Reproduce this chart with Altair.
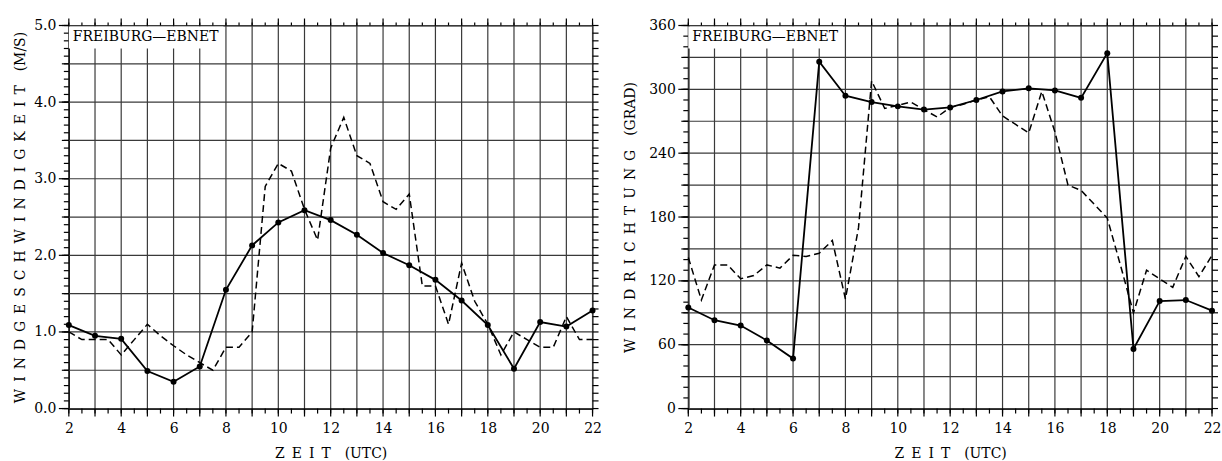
import altair as alt
import pandas as pd

# Time axis: hourly means (solid, dotted) and half-hourly values (dashed)
hours = list(range(2, 23))
half_hours = [2 + 0.5 * i for i in range(41)]

# Wind speed (m/s)
speed_hourly = [1.09, 0.95, 0.91, 0.49, 0.35, 0.55, 1.55, 2.13, 2.43, 2.59, 2.46,
                2.27, 2.03, 1.87, 1.68, 1.41, 1.09, 0.52, 1.13, 1.07, 1.28]
speed_halfhourly = [1.0, 0.9, 0.9, 0.9, 0.7, 0.9, 1.1, 0.95, 0.82, 0.7,
                    0.6, 0.5, 0.8, 0.8, 1.0, 2.9, 3.2, 3.1, 2.6, 2.2,
                    3.4, 3.8, 3.3, 3.2, 2.7, 2.6, 2.8, 1.6, 1.6, 1.1,
                    1.9, 1.4, 1.1, 0.7, 1.0, 0.9, 0.8, 0.8, 1.2, 0.9,
                    0.9]

# Wind direction (degrees)
direction_hourly = [95, 83, 78, 64, 47, 326, 294, 288, 284, 281, 283,
                    290, 298, 301, 299, 292, 334, 56, 101, 102, 92]
direction_halfhourly = [142, 102, 135, 135, 122, 125, 135, 132, 144, 143,
                        146, 158, 103, 170, 308, 282, 285, 288, 281, 274,
                        283, 286, 290, 293, 275, 267, 259, 298, 260, 210,
                        205, 192, 179, 135, 90, 130, 122, 114, 143, 124,
                        144]

station = "FREIBURG\u2014EBNET"
sp = "\u2002"
x_title = sp.join("ZEIT") + sp * 2 + "(UTC)"
speed_title = sp.join("WINDGESCHWINDIGKEIT") + sp * 2 + "(M/S)"
direction_title = sp.join("WINDRICHTUNG") + sp * 2 + "(GRAD)"

# tick positions: minor / gridline / labelled
speed_ticks = [round(0.1 * i, 1) for i in range(51)]
speed_grid = [round(0.5 * i, 1) for i in range(11)]
speed_labels = [float(i) for i in range(6)]
direction_ticks = list(range(0, 361, 10))
direction_grid = list(range(0, 361, 30))
direction_labels = list(range(0, 361, 60))
hour_labels = list(range(2, 23, 2))

FONT = "DejaVu Serif"
W, H = 525, 384


def panel(hourly, halfhourly, y_max, y_ticks, y_grid, y_labels, y_title, label_fmt,
          title_pad):
    x_scale = alt.Scale(domain=[2, 22], nice=False, zero=False)
    y_scale = alt.Scale(domain=[0, y_max], nice=False, zero=False)
    half = pd.DataFrame({"zeit": half_hours, "wert": halfhourly})
    hour = pd.DataFrame({"zeit": hours, "wert": hourly})

    x_axis = alt.Axis(values=hour_labels, title=x_title, format="d", ticks=False,
                      grid=False, labelPadding=13, titlePadding=11,
                      labelFlush=False, labelOverlap=False)
    y_axis = alt.Axis(values=y_labels, title=y_title, format=label_fmt, ticks=False,
                      grid=False, labelPadding=13, titlePadding=title_pad,
                      labelFlush=False, labelOverlap=False)

    def xfield(axis=None):
        return alt.X("zeit:Q", scale=x_scale, axis=axis)

    def yfield(axis=None):
        return alt.Y("wert:Q", scale=y_scale, axis=axis)

    def vrules(values, y0, y1, color="black", width=1.2):
        return alt.Chart(pd.DataFrame({"t": values})).mark_rule(
            color=color, strokeWidth=width
        ).encode(x=alt.X("t:Q", scale=x_scale, axis=None),
                 y=alt.value(y0), y2=alt.value(y1))

    def hrules(values, x0, x1, color="black", width=1.2):
        return alt.Chart(pd.DataFrame({"t": values})).mark_rule(
            color=color, strokeWidth=width
        ).encode(y=alt.Y("t:Q", scale=y_scale, axis=None),
                 x=alt.value(x0), x2=alt.value(x1))

    grid = [
        vrules(hours, 0, H, color="#3a3a3a"),
        hrules(y_grid, 0, W, color="#3a3a3a"),
    ]
    ticks = [
        # bottom and top
        vrules(half_hours, H, H + 5), vrules(hours, H, H + 8),
        vrules(half_hours, -3, 0), vrules(hours, -7, 0),
        # left and right
        hrules(y_ticks, -5, 0), hrules(y_grid, -7, 0), hrules(y_labels, -10, 0),
        hrules(y_ticks, W, W + 6),
    ]

    dashed = alt.Chart(half).mark_line(
        color="black", strokeWidth=1.5, strokeDash=[7, 4]
    ).encode(x=xfield(x_axis), y=yfield(y_axis))
    solid = alt.Chart(hour).mark_line(color="black", strokeWidth=1.8).encode(
        x=xfield(), y=yfield())
    dots = alt.Chart(hour).mark_circle(color="black", size=36, opacity=1).encode(
        x=xfield(), y=yfield())

    label_df = pd.DataFrame({"name": [station]})
    box = alt.Chart(label_df).mark_rect(color="white").encode(
        x=alt.value(0), x2=alt.value(155), y=alt.value(1), y2=alt.value(23)
    )
    text = alt.Chart(label_df).mark_text(
        align="left", baseline="middle", font=FONT, fontSize=14, color="black"
    ).encode(x=alt.value(4), y=alt.value(12), text="name:N")

    return alt.layer(*grid, dashed, solid, dots, *ticks, box, text).resolve_axis(
        x="independent", y="independent"
    ).properties(width=W, height=H)


left = panel(speed_hourly, speed_halfhourly, 5.0, speed_ticks, speed_grid,
             speed_labels, speed_title, ".1f", 6)
right = panel(direction_hourly, direction_halfhourly, 360, direction_ticks,
              direction_grid, direction_labels, direction_title, "d", 11)

chart = alt.hconcat(left, right, spacing=20).configure(
    padding={"left": 13, "top": 16, "right": 0, "bottom": 0}
).configure_axis(
    domainColor="black", domainWidth=1.2,
    labelFont=FONT, labelFontSize=14, labelColor="black",
    titleFont=FONT, titleFontSize=14, titleFontWeight="normal", titleColor="black",
).configure_view(stroke="black", strokeWidth=1.2)

chart.save("out.html", embed_options={"renderer": "svg", "actions": False})
